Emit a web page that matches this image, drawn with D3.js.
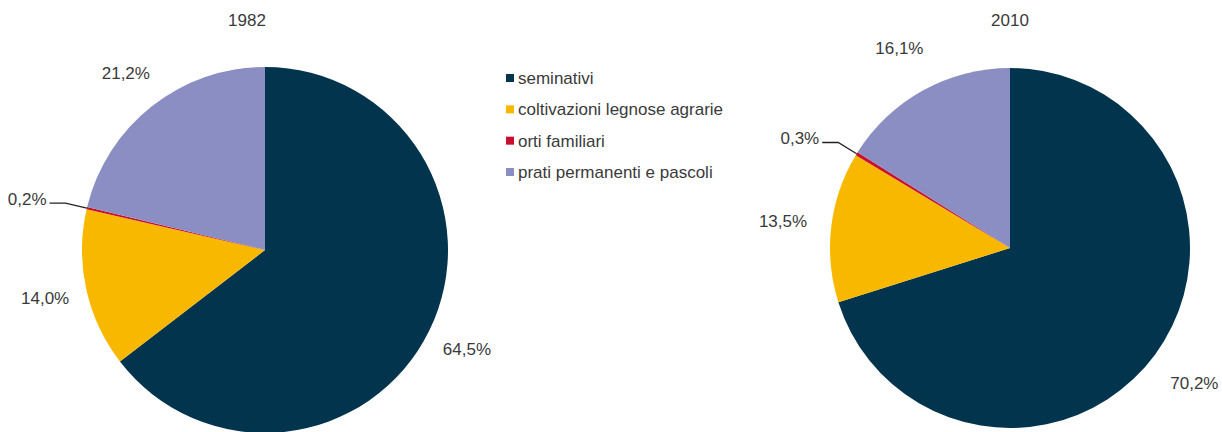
<!DOCTYPE html>
<html>
<head>
<meta charset="utf-8">
<script src="https://cdn.jsdelivr.net/npm/d3@7"></script>
<style>
  body { margin: 0; background: #fff; }
  text { font-family: "Liberation Sans", Arial, sans-serif; fill: #3a3a3a; font-size: 17px; }
</style>
</head>
<body>
<svg id="chart"></svg>
<script>
const categories = ["seminativi", "coltivazioni legnose agrarie", "orti familiari", "prati permanenti e pascoli"];
const colors = ["#02344d", "#f9b800", "#c8102e", "#8a8ec2"];
const years = ["1982", "2010"];
const values1982 = [64.5, 14.0, 0.2, 21.2];
const values2010 = [70.2, 13.5, 0.3, 16.1];

const width = 1222, height = 432;
const svg = d3.select("#chart").attr("width", width).attr("height", height);

const fmt = v => d3.format(".1f")(v).replace(".", ",") + "%";
const color = d3.scaleOrdinal().domain(categories).range(colors);
const pie = d3.pie().sort(null).value(d => d.value);

// one pie per year
const pies = [
  {year: years[0], values: values1982, cx: 265, cy: 250, r: 183, titleX: 247, labelK: 1.23},
  {year: years[1], values: values2010, cx: 1010, cy: 248, r: 180, titleX: 1010, labelK: 1.27}
];

pies.forEach(p => {
  const data = categories.map((c, i) => ({cat: c, value: p.values[i]}));
  const arcs = pie(data);
  const g = svg.append("g").attr("transform", `translate(${p.cx},${p.cy})`);
  const arc = d3.arc().innerRadius(0).outerRadius(p.r);

  g.selectAll("path")
    .data(arcs)
    .enter()
    .append("path")
    .attr("d", arc)
    .attr("fill", d => color(d.data.cat));

  svg.append("text")
    .attr("x", p.titleX)
    .attr("y", 26)
    .attr("text-anchor", "middle")
    .text(p.year);

  arcs.forEach(d => {
    const a = (d.startAngle + d.endAngle) / 2;
    const pt = k => [Math.sin(a) * p.r * k, -Math.cos(a) * p.r * k];
    if (d.data.value < 1) {
      // tiny slice: label with leader line
      const edge = pt(1.0), elbow = pt(1.12);
      const endX = elbow[0] - 16;
      g.append("path")
        .attr("d", d3.line()([edge, elbow, [endX, elbow[1]]]))
        .attr("fill", "none")
        .attr("stroke", "#222")
        .attr("stroke-width", 1.3);
      g.append("text")
        .attr("x", endX - 3)
        .attr("y", elbow[1])
        .attr("dy", "0.1em")
        .attr("text-anchor", "end")
        .text(fmt(d.data.value));
    } else {
      const c = pt(p.labelK);
      g.append("text")
        .attr("x", c[0])
        .attr("y", c[1])
        .attr("dy", "0.35em")
        .attr("text-anchor", "middle")
        .text(fmt(d.data.value));
    }
  });
});

// legend
const legend = svg.append("g").attr("transform", "translate(506,78)");
const y = d3.scalePoint().domain(categories).range([0, 94]);
categories.forEach(c => {
  legend.append("rect")
    .attr("x", 0)
    .attr("y", y(c) - 4)
    .attr("width", 8)
    .attr("height", 8)
    .attr("fill", color(c));
  legend.append("text")
    .attr("x", 12)
    .attr("y", y(c))
    .attr("dy", "0.35em")
    .text(c);
});
</script>
</body>
</html>
